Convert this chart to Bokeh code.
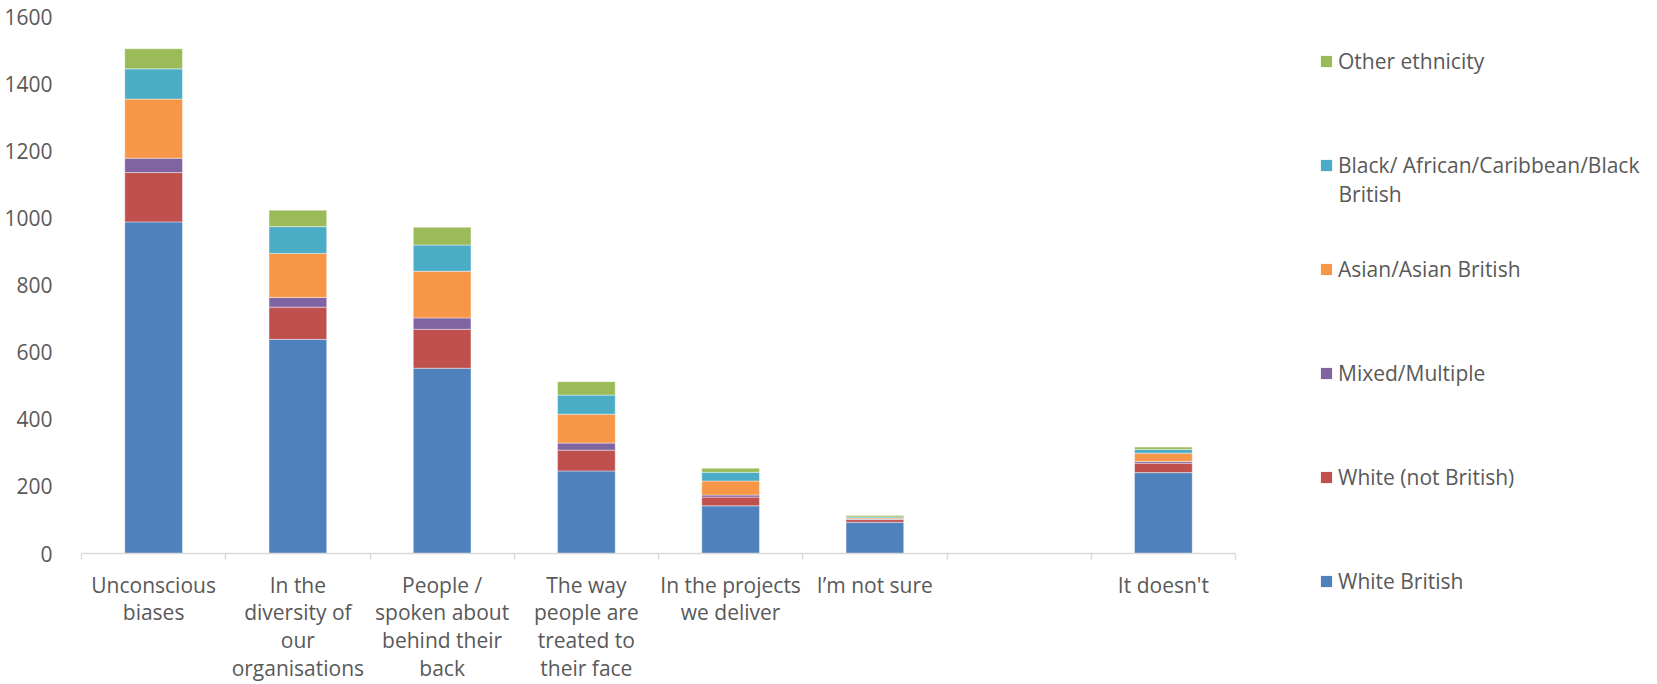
from bokeh.plotting import figure
from bokeh.layouts import row
from bokeh.models import (ColumnDataSource, Range1d, FixedTicker, LinearAxis,
                          Legend, LegendItem, Label)
from bokeh.embed import file_html
from bokeh.resources import INLINE

# Where racism shows up, split by respondent ethnicity
categories = [
    "Unconscious biases",
    "In the diversity of our organisations",
    "People / spoken about behind their back",
    "The way people are treated to their face",
    "In the projects we deliver",
    "I’m not sure",
    "",
    "It doesn't",
]
tick_labels = [
    "Unconscious\nbiases",
    "In the\ndiversity of\nour\norganisations",
    "People /\nspoken about\nbehind their\nback",
    "The way\npeople are\ntreated to\ntheir face",
    "In the projects\nwe deliver",
    "I’m not sure",
    "",
    "It doesn't",
]

white_british = [988, 638, 552, 246, 142, 93, 0, 241]
white_not_british = [147, 96, 116, 62, 26, 8, 0, 28]
mixed_multiple = [43, 29, 34, 21, 6, 2, 0, 5]
asian_british = [176, 131, 139, 86, 42, 3, 0, 25]
black_british = [90, 80, 78, 57, 26, 3, 0, 11]
other_ethnicity = [60, 49, 53, 40, 12, 4, 0, 7]

series_keys = ["white_british", "white_not_british", "mixed", "asian", "black", "other"]
series_names = [
    "White British",
    "White (not British)",
    "Mixed/Multiple",
    "Asian/Asian British",
    "Black/ African/Caribbean/Black",
    "Other ethnicity",
]
black_name_tail = "British"
series_colors = ["#4F81BD", "#C0504D", "#8064A2", "#F79646", "#4BACC6", "#9BBB59"]

y_ticks = [0, 200, 400, 600, 800, 1000, 1200, 1400, 1600]

FONT = "Open Sans"
TEXT = "#595959"
GRID = "#d9d9d9"
FONT_SIZE = "21px"

n = len(categories)
x_centers = [i + 0.5 for i in range(n)]
source = ColumnDataSource(dict(
    x=x_centers,
    white_british=white_british,
    white_not_british=white_not_british,
    mixed=mixed_multiple,
    asian=asian_british,
    black=black_british,
    other=other_ethnicity,
))

# ---- main chart -------------------------------------------------------
p = figure(
    width=1238, height=684,
    x_range=Range1d(0, n), y_range=Range1d(y_ticks[0], y_ticks[-1]),
    output_backend="svg", toolbar_location=None,
    x_axis_type=None, y_axis_type=None,
    min_border_left=81, min_border_right=3,
    min_border_top=16, min_border_bottom=131,
)
p.frame_align = False
p.outline_line_color = None
p.background_fill_color = "white"
p.border_fill_color = "white"

p.vbar_stack(
    series_keys, x="x", width=0.4, source=source,
    color=series_colors, line_color="white", line_width=0.6, line_alpha=0.7,
)

# value axis
yaxis = LinearAxis(ticker=FixedTicker(ticks=y_ticks, minor_ticks=[]))
yaxis.axis_line_color = None
yaxis.major_tick_line_color = None
yaxis.minor_tick_line_color = None
yaxis.major_label_standoff = 23
yaxis.major_label_text_font = FONT
yaxis.major_label_text_font_size = FONT_SIZE
yaxis.major_label_text_color = TEXT
p.add_layout(yaxis, "left")

# category axis: labels at the centres, tick marks on the boundaries
xaxis = LinearAxis(ticker=FixedTicker(ticks=x_centers, minor_ticks=list(range(n + 1))))
xaxis.major_label_overrides = {x: lab for x, lab in zip(x_centers, tick_labels)}
xaxis.axis_line_color = GRID
xaxis.axis_line_width = 1.4
xaxis.major_tick_line_color = None
xaxis.major_tick_out = 0
xaxis.major_tick_in = 0
xaxis.minor_tick_line_color = GRID
xaxis.minor_tick_line_width = 1.4
xaxis.minor_tick_out = 6
xaxis.minor_tick_in = 0
xaxis.major_label_standoff = 11
xaxis.major_label_text_font = FONT
xaxis.major_label_text_font_size = FONT_SIZE
xaxis.major_label_text_color = TEXT
xaxis.major_label_text_line_height = 0.99
p.add_layout(xaxis, "below")

p.ygrid.grid_line_color = GRID
p.ygrid.grid_line_width = 1.4
p.ygrid.ticker = yaxis.ticker

# ---- legend panel -----------------------------------------------------
lf = figure(
    width=419, height=684,
    x_range=Range1d(0, 1), y_range=Range1d(0, 1),
    output_backend="svg", toolbar_location=None,
    x_axis_type=None, y_axis_type=None,
    min_border=0,
)
lf.frame_align = False
lf.outline_line_color = None
lf.background_fill_color = "white"
lf.border_fill_color = "white"

# flat (zero-height) bars that only supply the legend swatches
swatches = [
    lf.vbar(x=[0.5], bottom=[0], top=[0], width=0.0, fill_color=c, line_color=None)
    for c in series_colors
]

ITEM_H, GAP = 58, 46
legend = Legend(
    items=[LegendItem(label=name, renderers=[r])
           for name, r in reversed(list(zip(series_names, swatches)))],
    location=(81, 74),
    orientation="vertical",
    glyph_width=14, glyph_height=14,
    label_standoff=5, label_height=ITEM_H, spacing=GAP,
    padding=0, margin=0,
    border_line_color=None, background_fill_alpha=0,
    label_text_font=FONT, label_text_font_size=FONT_SIZE,
    label_text_color=TEXT,
)
lf.add_layout(legend, "center")

# second line of the Black/African/Caribbean entry
lf.add_layout(Label(
    x=100, y=491, x_units="screen", y_units="screen",
    text=black_name_tail, text_baseline="middle",
    text_font=FONT, text_font_size=FONT_SIZE, text_color=TEXT,
))

open("out.html", "w").write(file_html(row(p, lf), INLINE))
